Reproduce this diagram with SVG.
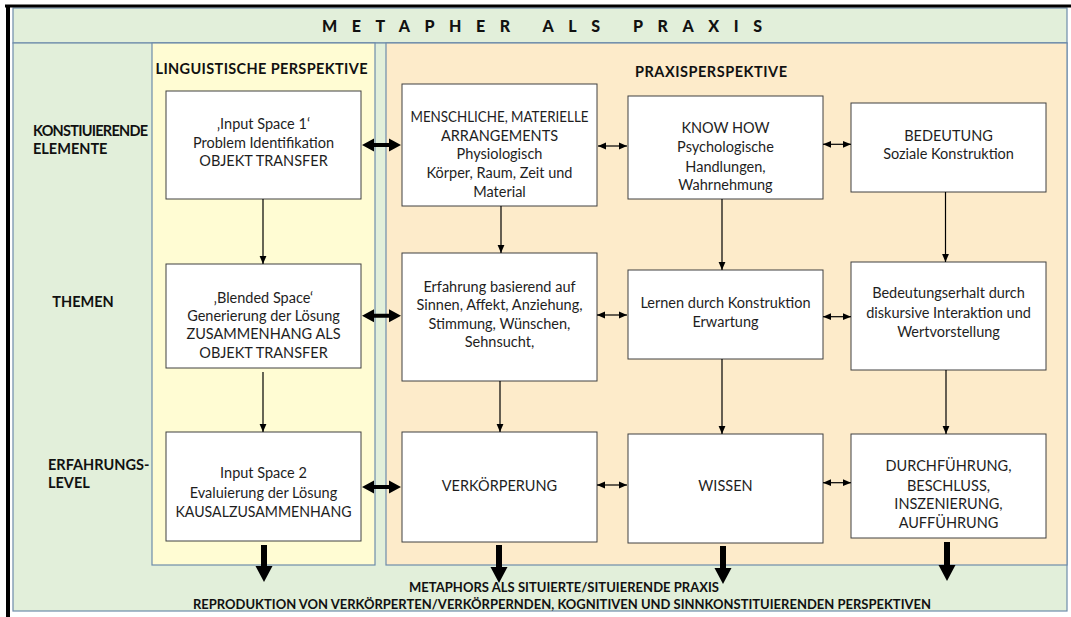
<svg xmlns="http://www.w3.org/2000/svg" width="1071" height="617" viewBox="0 0 1071 617">
<style>
.bg{fill:#E2EFDA;stroke:#6E8CAB;stroke-width:1.2}
.yel{fill:#FFFCD3;stroke:#6E8CAB;stroke-width:1.2}
.ora{fill:#FDEBCA;stroke:#6E8CAB;stroke-width:1.2}
.box{fill:#fff;stroke:#404040;stroke-width:1}
text{font-family:Lato,"Liberation Sans",sans-serif;fill:#1e1e1e}
.t{font-size:14.5px;text-anchor:middle}
.h{font-size:14.5px;font-weight:bold;fill:#111}
.m{text-anchor:middle}
.b{font-size:13px;font-weight:bold;text-anchor:middle;fill:#111}
.thin{stroke:#000;stroke-width:1.2;fill:none}
.thick{fill:#000}
</style>
<defs>
<marker id="ah" viewBox="0 0 8 8" refX="8" refY="4" markerWidth="8" markerHeight="8" markerUnits="userSpaceOnUse" orient="auto-start-reverse"><path d="M0,0.6 L8,4 L0,7.4 z" fill="#000"/></marker>
</defs>
<rect width="1071" height="617" fill="#fff"/>
<g id="frame">
<rect class="bg" x="13" y="8" width="1054" height="35"/>
<rect class="bg" x="13" y="43" width="1054" height="568"/>
<rect class="yel" x="152" y="43" width="223" height="522"/>
<rect class="ora" x="386" y="43" width="681" height="522"/>
<line x1="5" y1="6" x2="1071" y2="6" stroke="#000" stroke-width="3"/>
<rect x="6" y="5" width="4" height="612" fill="#000"/>
</g>
<g id="title"><text x="322" y="32" style="font-size:16px;font-weight:900;fill:#111" textLength="440" lengthAdjust="spacing">METAPHER ALS PRAXIS</text></g>
<g id="row-labels">
<text class="h" x="33" y="136" textLength="115">KONSTIUIERENDE</text>
<text class="h" x="33" y="154">ELEMENTE</text>
<text class="h m" x="83" y="307">THEMEN</text>
<text class="h" x="48" y="470">ERFAHRUNGS-</text>
<text class="h" x="48" y="488">LEVEL</text>
</g>
<g id="headers">
<text class="h m" x="261.5" y="74" textLength="212">LINGUISTISCHE PERSPEKTIVE</text>
<text class="h m" x="711" y="77" textLength="152">PRAXISPERSPEKTIVE</text>
</g>
<g id="input-space-1"><rect class="box" x="166" y="91" width="195" height="108"/>
<text class="t" x="263.5" y="129">‚Input Space 1‘</text>
<text class="t" x="263.5" y="147.5">Problem Identifikation</text>
<text class="t" x="263.5" y="165.5">OBJEKT TRANSFER</text></g>
<g id="blended-space"><rect class="box" x="166" y="264" width="195" height="104"/>
<text class="t" x="263.5" y="302.5">‚Blended Space‘</text>
<text class="t" x="263.5" y="321">Generierung der Lösung</text>
<text class="t" x="263.5" y="339">ZUSAMMENHANG ALS</text>
<text class="t" x="263.5" y="357.5">OBJEKT TRANSFER</text></g>
<g id="input-space-2"><rect class="box" x="166" y="432" width="195" height="109"/>
<text class="t" x="263.5" y="478">Input Space 2</text>
<text class="t" x="263.5" y="497.5">Evaluierung der Lösung</text>
<text class="t" x="263.5" y="517" textLength="176" lengthAdjust="spacingAndGlyphs">KAUSALZUSAMMENHANG</text></g>
<g id="arrangements"><rect class="box" x="402" y="84" width="195" height="122"/>
<text class="t" x="499.5" y="121.7" textLength="178" lengthAdjust="spacingAndGlyphs">MENSCHLICHE, MATERIELLE</text>
<text class="t" x="499.5" y="140.7">ARRANGEMENTS</text>
<text class="t" x="499.5" y="159.3">Physiologisch</text>
<text class="t" x="499.5" y="178.3">Körper, Raum, Zeit und</text>
<text class="t" x="499.5" y="197.3">Material</text></g>
<g id="know-how"><rect class="box" x="628" y="96" width="195" height="103"/>
<text class="t" x="725.5" y="133.3">KNOW HOW</text>
<text class="t" x="725.5" y="152.3">Psychologische</text>
<text class="t" x="725.5" y="171.7">Handlungen,</text>
<text class="t" x="725.5" y="190">Wahrnehmung</text></g>
<g id="bedeutung"><rect class="box" x="851" y="103" width="195" height="89"/>
<text class="t" x="948.5" y="140.7">BEDEUTUNG</text>
<text class="t" x="948.5" y="159">Soziale Konstruktion</text></g>
<g id="erfahrung"><rect class="box" x="402" y="253" width="195" height="128"/>
<text class="t" x="499.5" y="291.5">Erfahrung basierend auf</text>
<text class="t" x="499.5" y="310">Sinnen, Affekt, Anziehung,</text>
<text class="t" x="499.5" y="328.5">Stimmung, Wünschen,</text>
<text class="t" x="499.5" y="347">Sehnsucht,</text></g>
<g id="lernen"><rect class="box" x="628" y="270" width="195" height="89"/>
<text class="t" x="725.5" y="308.3">Lernen durch Konstruktion</text>
<text class="t" x="725.5" y="326.7">Erwartung</text></g>
<g id="bedeutungserhalt"><rect class="box" x="851" y="262" width="195" height="108"/>
<text class="t" x="948.5" y="298.3">Bedeutungserhalt durch</text>
<text class="t" x="948.5" y="317.7">diskursive Interaktion und</text>
<text class="t" x="948.5" y="336.7">Wertvorstellung</text></g>
<g id="verkoerperung"><rect class="box" x="402" y="432" width="195" height="110"/>
<text class="t" x="499.5" y="491">VERKÖRPERUNG</text></g>
<g id="wissen"><rect class="box" x="628" y="434" width="195" height="109"/>
<text class="t" x="725.5" y="491">WISSEN</text></g>
<g id="durchfuehrung"><rect class="box" x="851" y="434" width="195" height="104"/>
<text class="t" x="948.5" y="471">DURCHFÜHRUNG,</text>
<text class="t" x="948.5" y="490.5">BESCHLUSS,</text>
<text class="t" x="948.5" y="509">INSZENIERUNG,</text>
<text class="t" x="948.5" y="528.3">AUFFÜHRUNG</text></g>
<g id="bottom-text">
<text class="b" x="564" y="592" textLength="310">METAPHORS ALS SITUIERTE/SITUIERENDE PRAXIS</text>
<text class="b" x="562" y="609" textLength="738">REPRODUKTION VON VERKÖRPERTEN/VERKÖRPERNDEN, KOGNITIVEN UND SINNKONSTITUIERENDEN PERSPEKTIVEN</text>
</g>
<g id="connectors">
<line class="thin" x1="263" y1="199" x2="263" y2="264" marker-end="url(#ah)"/>
<line class="thin" x1="263" y1="372" x2="263" y2="432" marker-end="url(#ah)"/>
<line class="thin" x1="501" y1="206" x2="501" y2="253" marker-end="url(#ah)"/>
<line class="thin" x1="722" y1="199" x2="722" y2="270" marker-end="url(#ah)"/>
<line class="thin" x1="945.5" y1="192" x2="945.5" y2="262" marker-end="url(#ah)"/>
<line class="thin" x1="500" y1="381" x2="500" y2="432" marker-end="url(#ah)"/>
<line class="thin" x1="722" y1="359" x2="722" y2="434" marker-end="url(#ah)"/>
<line class="thin" x1="946" y1="370" x2="946" y2="434" marker-end="url(#ah)"/>
<line class="thin" x1="598" y1="146" x2="627" y2="146" marker-start="url(#ah)" marker-end="url(#ah)"/>
<line class="thin" x1="823" y1="144.3" x2="851" y2="144.3" marker-start="url(#ah)" marker-end="url(#ah)"/>
<line class="thin" x1="597" y1="315" x2="627" y2="315" marker-start="url(#ah)" marker-end="url(#ah)"/>
<line class="thin" x1="823" y1="316.7" x2="851" y2="316.7" marker-start="url(#ah)" marker-end="url(#ah)"/>
<line class="thin" x1="597" y1="485" x2="627" y2="485" marker-start="url(#ah)" marker-end="url(#ah)"/>
<line class="thin" x1="823" y1="482.7" x2="851" y2="482.7" marker-start="url(#ah)" marker-end="url(#ah)"/>
<path class="thick" d="M362,145 L374,138.5 L374,143 L389,143 L389,138.5 L401,145 L389,151.5 L389,147 L374,147 L374,151.5 Z"/>
<path class="thick" d="M362,315.7 L374,309.2 L374,313.7 L389,313.7 L389,309.2 L401,315.7 L389,322.2 L389,317.7 L374,317.7 L374,322.2 Z"/>
<path class="thick" d="M362,487 L374,480.5 L374,485 L389,485 L389,480.5 L401,487 L389,493.5 L389,489 L374,489 L374,493.5 Z"/>
<path class="thick" d="M261,545 L267,545 L267,566 L272.5,566 L264,582 L255.5,566 L261,566 Z"/>
<path class="thick" d="M496,545 L502,545 L502,567 L507.5,567 L499,583 L490.5,567 L496,567 Z"/>
<path class="thick" d="M720,546 L726,546 L726,568 L731.5,568 L723,584 L714.5,568 L720,568 Z"/>
<path class="thick" d="M944,542 L950,542 L950,565 L955.5,565 L947,581 L938.5,565 L944,565 Z"/>
</g>
</svg>
